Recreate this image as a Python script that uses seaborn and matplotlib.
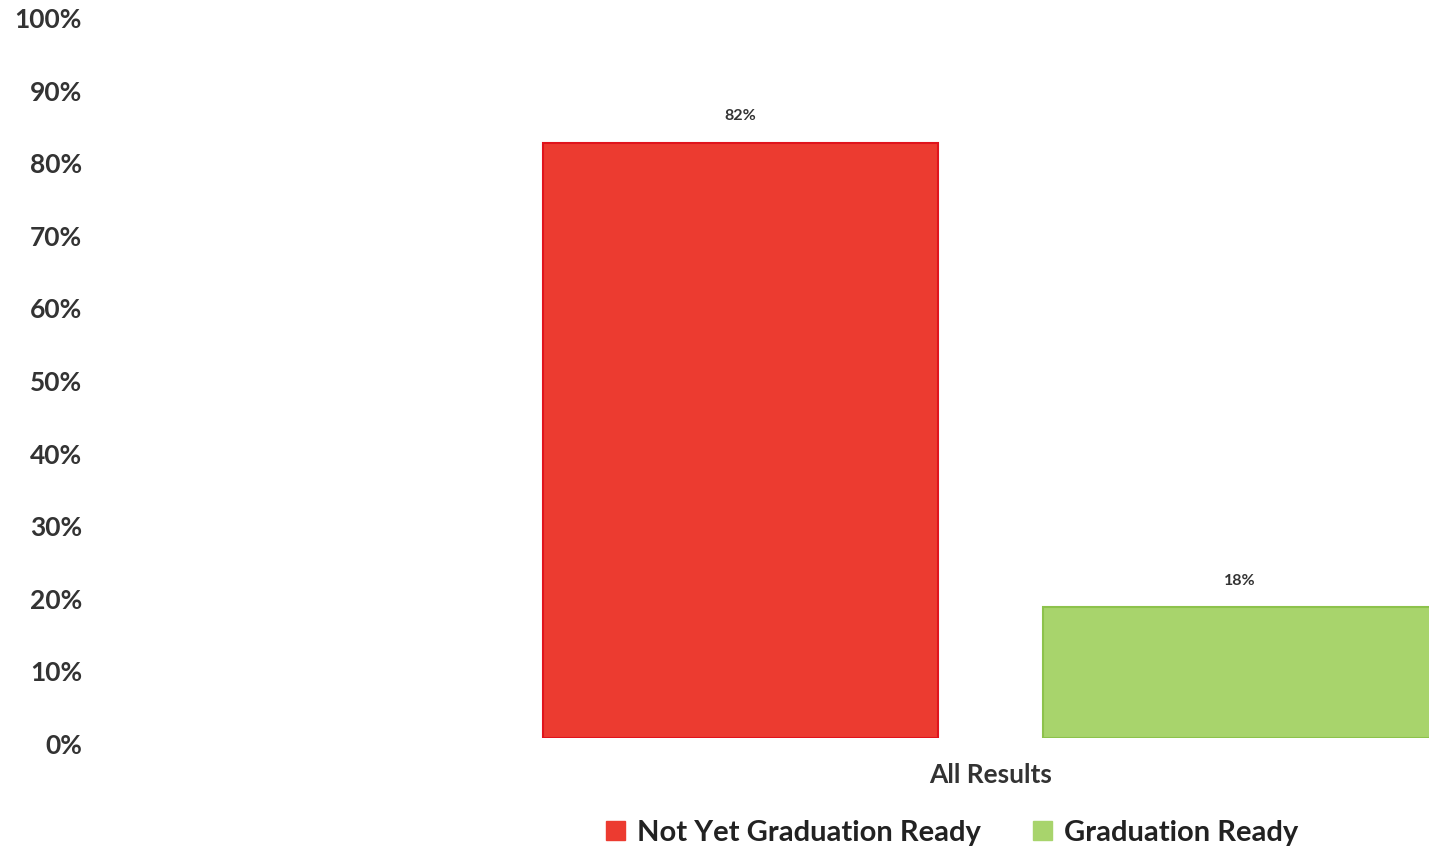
import pandas as pd
import matplotlib.pyplot as plt
import matplotlib.transforms as mtransforms
import seaborn as sns

# values
categories = ["All Results"]
series = ["Not Yet Graduation Ready", "Graduation Ready"]
percent = [82, 18]
bar_colors = ["#EC3B30", "#A8D46C"]
edge_colors = ["#E0141C", "#8DC24C"]

df = pd.DataFrame({
    "category": categories * len(series),
    "series": series,
    "percent": percent,
})

sns.set_theme(style="white")
plt.rcParams["font.family"] = ["Lato", "DejaVu Sans"]
plt.rcParams["font.weight"] = "bold"

fig = plt.figure(figsize=(14.29, 8.51), dpi=100)
ax = fig.add_axes([100 / 1429, 1 - 738 / 851, 1 - 100 / 1429, (738 - 12) / 851])

sns.barplot(data=df, x="category", y="percent", hue="series",
            palette=bar_colors, width=0.8, gap=0.21, saturation=1,
            ax=ax, legend=False)

for cont, ec in zip(ax.containers, edge_colors):
    for patch in cont:
        patch.set_edgecolor(ec)
        patch.set_linewidth(1.5)
    ax.bar_label(cont, labels=[f"{v:.0f}%" for v in cont.datavalues],
                 padding=14, fontsize=11.5, fontweight="bold", color="#333333")

ax.set_ylim(0, 100)
ax.set_yticks(range(0, 101, 10))
ax.set_yticklabels([f"{t}%" for t in range(0, 101, 10)])
ax.set_xlim(-0.712, 0.351)
ax.tick_params(axis="y", length=0, pad=13, labelsize=19, labelcolor="#333333")
ax.tick_params(axis="x", length=0, pad=18, labelsize=19, labelcolor="#333333")
for lbl in ax.get_xticklabels() + ax.get_yticklabels():
    lbl.set_fontweight("bold")

# the scanned tick labels sit a few pixels lower than the gridline positions
shift = mtransforms.ScaledTranslation(0, -6 / 100, fig.dpi_scale_trans)
for lbl in ax.get_yticklabels():
    lbl.set_transform(lbl.get_transform() + shift)

ax.set_xlabel("")
ax.set_ylabel("")
sns.despine(ax=ax, left=True, bottom=True)

handles = [plt.Rectangle((0, 0), 1, 1, color=c) for c in bar_colors]
fig.legend(handles, series, loc="center", bbox_to_anchor=(952 / 1429, 1 - 833 / 851),
           ncol=2, frameon=False, handlelength=0.65, handleheight=0.65,
           handletextpad=0.4, columnspacing=1.8, labelcolor="#222222",
           prop={"weight": "bold", "size": 21})

fig.savefig("out.png", dpi=100)
